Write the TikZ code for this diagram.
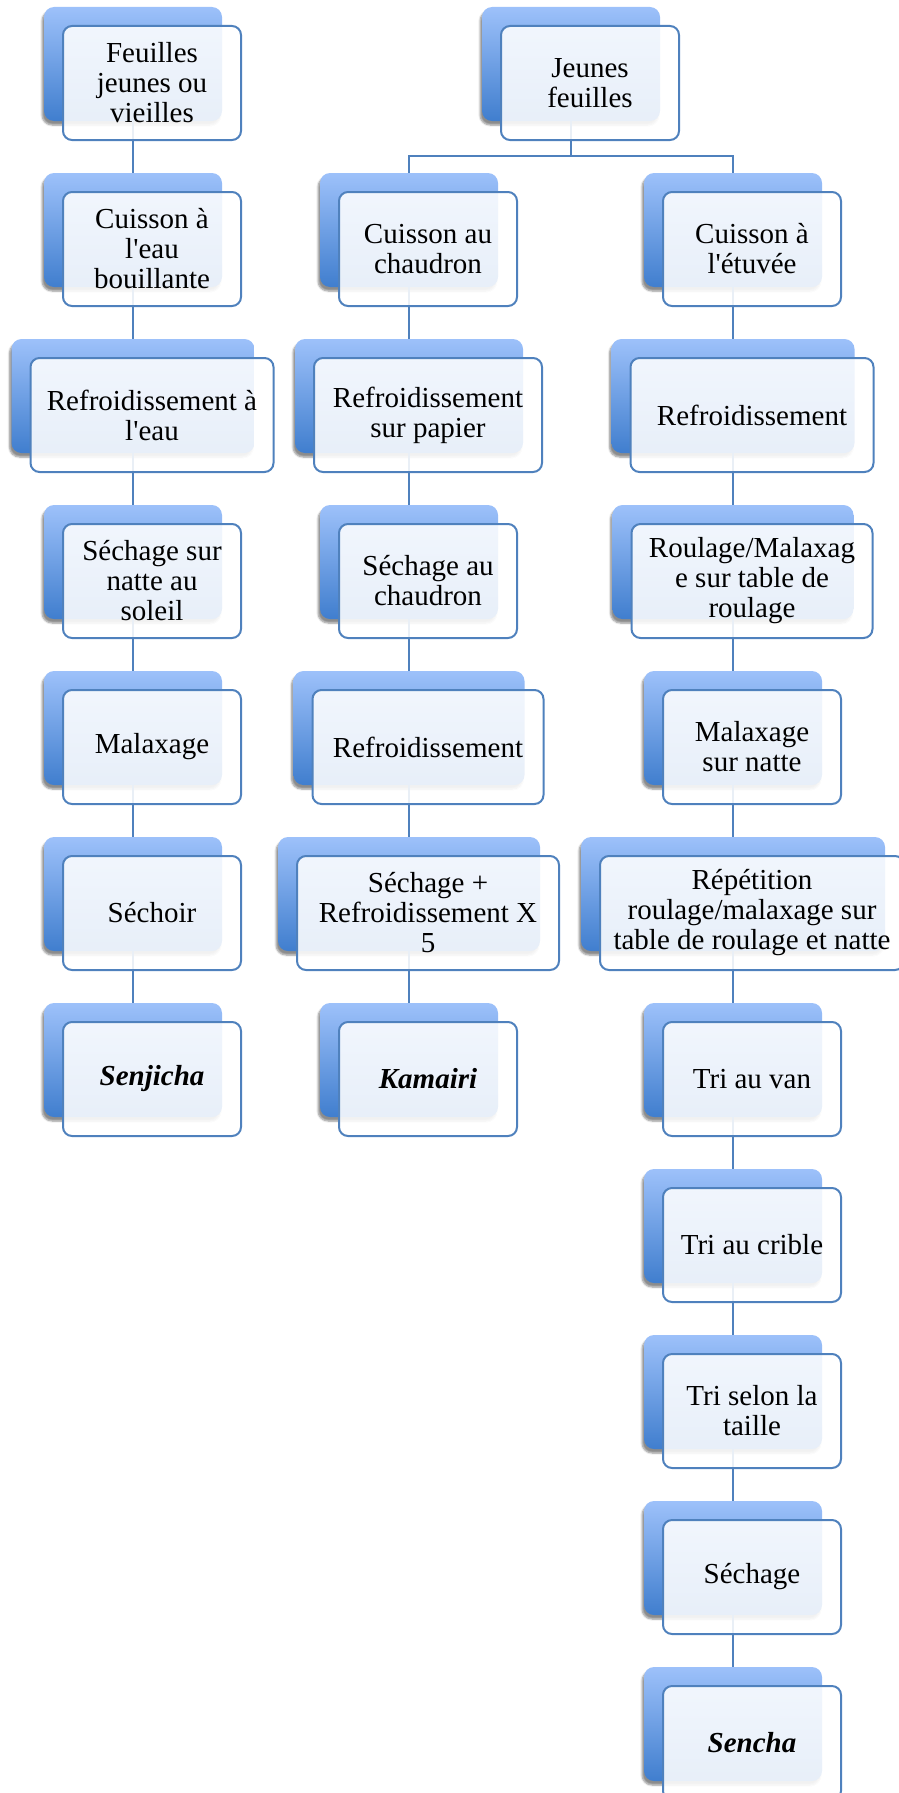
\documentclass[tikz,border=0pt]{standalone}
\usepackage{fontspec}
\setmainfont{Liberation Serif}
\usepackage{xcolor}
\usepackage{tikz}
\usetikzlibrary{shadows.blur}

\definecolor{hautbleu}{RGB}{157,193,250}
\definecolor{basbleu}{RGB}{64,126,206}
\definecolor{trait}{RGB}{79,129,189}

\begin{document}
\begin{tikzpicture}[x=1pt, y=-1pt,
    arriere/.style={rectangle, rounded corners=10pt, minimum height=114pt, inner sep=0pt,
        top color=hautbleu, bottom color=basbleu,
        blur shadow={shadow xshift=-2pt, shadow yshift=-4pt, shadow opacity=45, shadow blur steps=6}},
    devant/.style={rectangle, rounded corners=9pt, minimum height=114pt, inner sep=0pt,
        draw=trait, line width=2pt, fill=white, fill opacity=0.88, text opacity=1,
        align=center, font=\fontsize{29}{30}\selectfont},
    lien/.style={draw=trait, line width=2pt}]

    \useasboundingbox (0,0) rectangle (899,1793);

    % nom / x centre / rang / largeur / texte
    \def\etapes{%
        g1/133/1/178/{Feuilles\\jeunes ou\\vieilles},%
        g2/133/2/178/{Cuisson à\\l\textquotesingle eau\\bouillante},%
        g3/133/3/243/{Refroidissement à\\l\textquotesingle eau},%
        g4/133/4/178/{Séchage sur\\natte au\\soleil},%
        g5/133/5/178/{Malaxage},%
        g6/133/6/178/{Séchoir},%
        g7/133/7/178/{\textbf{\textit{Senjicha}}},%
        m2/409/2/178/{Cuisson au\\chaudron},%
        m3/409/3/228/{Refroidissement\\sur papier},%
        m4/409/4/178/{Séchage au\\chaudron},%
        m5/409/5/231/{Refroidissement},%
        m6/409/6/262/{Séchage +\\Refroidissement X\\5},%
        m7/409/7/178/{\textbf{\textit{Kamairi}}},%
        d1/571/1/178/{Jeunes\\feuilles},%
        d2/733/2/178/{Cuisson à\\l\textquotesingle étuvée},%
        d3/733/3/243/{Refroidissement},%
        d4/733/4/241/{Roulage/Malaxag\\e sur table de\\roulage},%
        d5/733/5/178/{Malaxage\\sur natte},%
        d6/733/6/304/{Répétition\\roulage/malaxage sur\\table de roulage et natte},%
        d7/733/7/178/{Tri au van},%
        d8/733/8/178/{Tri au crible},%
        d9/733/9/178/{Tri selon la\\taille},%
        d10/733/10/178/{Séchage},%
        d11/733/11/178/{\textbf{\textit{Sencha}}}}

    % Boites de fond (degrade)
    \foreach \nom/\x/\rg/\w/\txt in \etapes
        \node[arriere, minimum width=\w pt] (\nom-b) at (\x, {64+166*(\rg-1)}) {};

    % Liens
    \foreach \a/\b in {g1/g2,g2/g3,g3/g4,g4/g5,g5/g6,g6/g7,
                       m2/m3,m3/m4,m4/m5,m5/m6,m6/m7,
                       d2/d3,d3/d4,d4/d5,d5/d6,d6/d7,d7/d8,d8/d9,d9/d10,d10/d11}
        \draw[lien] (\a-b.south) -- (\b-b.north);
    \draw[lien] (d1-b.south) -- ++(0,35) -| (m2-b.north);
    \draw[lien] (d1-b.south) -- ++(0,35) -| (d2-b.north);

    % Boites de texte
    \foreach \nom/\x/\rg/\w/\txt in \etapes
        \node[devant, minimum width=\w pt] (\nom) at ([shift={(19,19)}]\nom-b.center) {\txt};
\end{tikzpicture}
\end{document}
